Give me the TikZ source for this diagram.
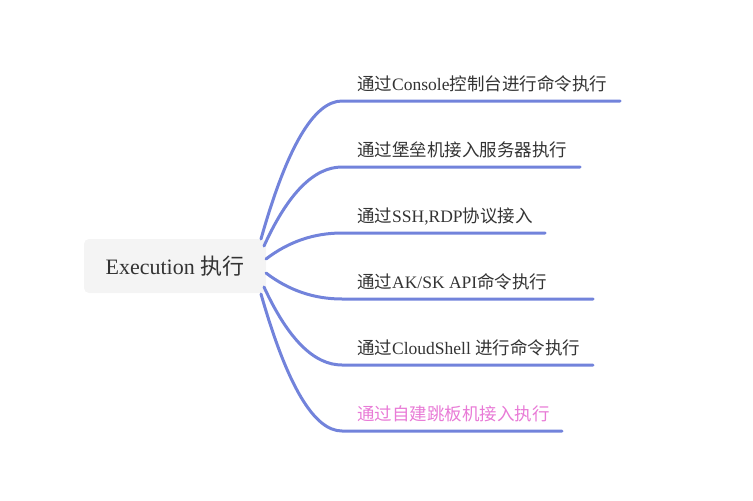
\documentclass[tikz,border=0pt]{standalone}
\usepackage{fontspec}
\setmainfont{Liberation Serif}
\newfontfamily\cjk{Noto Sans CJK SC}
\usetikzlibrary{calc}
\definecolor{branchcol}{RGB}{114,131,219}
\definecolor{txtcol}{RGB}{51,51,51}
\definecolor{pinkcol}{RGB}{232,122,214}
\definecolor{rootfill}{RGB}{244,244,244}
\tikzset{
  rootbox/.style={fill=rootfill, rounded corners=5pt, minimum width=182pt, minimum height=54pt,
    inner sep=0pt, text=txtcol, font=\fontsize{22}{26}\selectfont},
  lab/.style={anchor=base west, inner sep=0pt, text=txtcol, font=\fontsize{17.5}{21}\selectfont},
  branchline/.style={draw=branchcol, line width=3pt, line cap=round},
}
\begin{document}
\begin{tikzpicture}[x=1pt,y=-1pt]
\useasboundingbox (0,0) rectangle (753,501);
\node[rootbox] (root) at (175,266) {Execution {\cjk 执行}};
\foreach \i/\sx/\sy/\ly/\ex in {1/261/239/101/620, 2/264/246/167/580, 3/266/259/233/545, 4/266/273/299/593, 5/264/287/365/593, 6/261/294/431/562}{
  \coordinate (s\i) at (\sx,\sy);
  \coordinate (c\i) at (300,\ly);
  \coordinate (b\i) at (342,\ly);
  \coordinate (e\i) at (\ex,\ly);
  \draw[branchline] (s\i) .. controls ($(s\i)!0.667!(c\i)$) and ($(b\i)!0.667!(c\i)$) .. (b\i) -- (e\i);
}
\node[lab] (l1) at (357,90.5) {{\cjk 通过}Console{\cjk 控制台进行命令执行}};
\node[lab] (l2) at (357,156.5) {{\cjk 通过堡垒机接入服务器执行}};
\node[lab] (l3) at (357,222.5) {{\cjk 通过}SSH,RDP{\cjk 协议接入}};
\node[lab] (l4) at (357,288.5) {{\cjk 通过}AK/SK API{\cjk 命令执行}};
\node[lab] (l5) at (357,354.5) {{\cjk 通过}CloudShell {\cjk 进行命令执行}};
\node[lab, text=pinkcol] (l6) at (357,420.5) {{\cjk 通过自建跳板机接入执行}};
\end{tikzpicture}
\end{document}
